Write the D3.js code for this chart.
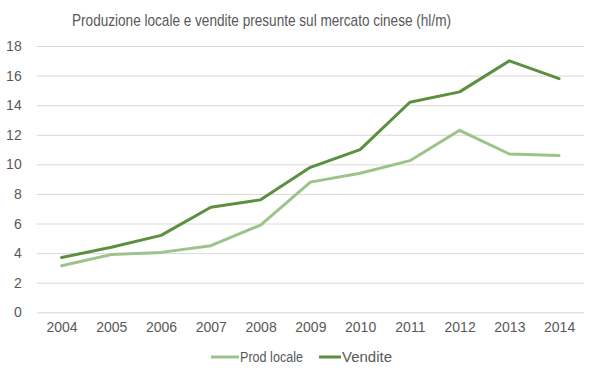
<!DOCTYPE html>
<html><head><meta charset="utf-8">
<script src="https://cdn.jsdelivr.net/npm/d3@7"></script>
<style>body{margin:0;background:#fff}svg{display:block}</style>
</head><body>
<svg id="c" width="599" height="378"></svg>
<script>
const years = ["2004","2005","2006","2007","2008","2009","2010","2011","2012","2013","2014"];
const prodLocale = [3.15,3.9,4.05,4.5,5.9,8.8,9.4,10.25,12.3,10.7,10.6];
const vendite = [3.7,4.4,5.2,7.1,7.6,9.8,11.0,14.2,14.9,17.0,15.8];
const yTicks = [0,2,4,6,8,10,12,14,16,18];
const title = "Produzione locale e vendite presunte sul mercato cinese (hl/m)";
const seriesNames = ["Prod locale","Vendite"];
const colors = ["#9dc38b","#5b9040"];

const font = "'Liberation Sans Narrow','Arial Narrow','Liberation Sans',sans-serif";
const svg = d3.select("#c");
const L = 36.7, R = 584, T = 46, B = 312.3;
const x = d3.scalePoint().domain(years).range([L, R]).padding(0.5);
const y = d3.scaleLinear().domain([0,18]).range([B, T]);

svg.append("text").attr("x", 72).attr("y", 25.5)
  .attr("font-family", font).attr("font-size", 17).attr("fill","#595959")
  .attr("textLength", 379).attr("lengthAdjust","spacingAndGlyphs").text(title);

const gy = svg.append("g").attr("transform", `translate(${L},0)`)
  .call(d3.axisLeft(y).tickValues(yTicks).tickSize(-(R-L)).tickPadding(15).tickFormat(d3.format("d")));
gy.select(".domain").remove();
gy.selectAll(".tick line").attr("stroke","#d9d9d9").attr("stroke-width",1);
gy.selectAll(".tick text").attr("font-family",font).attr("font-size",14).attr("fill","#595959");

const gx = svg.append("g").attr("transform", `translate(0,${B})`)
  .call(d3.axisBottom(x).tickSize(0).tickPadding(10));
gx.select(".domain").remove();
gx.selectAll(".tick text").attr("font-family",font).attr("font-size",14).attr("fill","#595959");

const line = d3.line().x((d,i)=>x(years[i])).y(d=>y(d));
[prodLocale, vendite].forEach((s,k)=>{
  svg.append("path").datum(s).attr("d", line).attr("fill","none")
    .attr("stroke", colors[k]).attr("stroke-width", 3).attr("stroke-linejoin","round").attr("stroke-linecap","round");
});

const leg = svg.append("g");
const legX = [211, 319], legW = [28, 22], legTL = [63, 50];
seriesNames.forEach((n,k)=>{
  leg.append("line").attr("x1", legX[k]).attr("x2", legX[k]+legW[k]).attr("y1",357).attr("y2",357)
    .attr("stroke", colors[k]).attr("stroke-width",3);
  leg.append("text").attr("x", legX[k]+legW[k]+1).attr("y", 362).attr("font-family",font)
    .attr("font-size",14).attr("fill","#595959")
    .attr("textLength", legTL[k]).attr("lengthAdjust","spacingAndGlyphs").text(n);
});
</script>
</body></html>
